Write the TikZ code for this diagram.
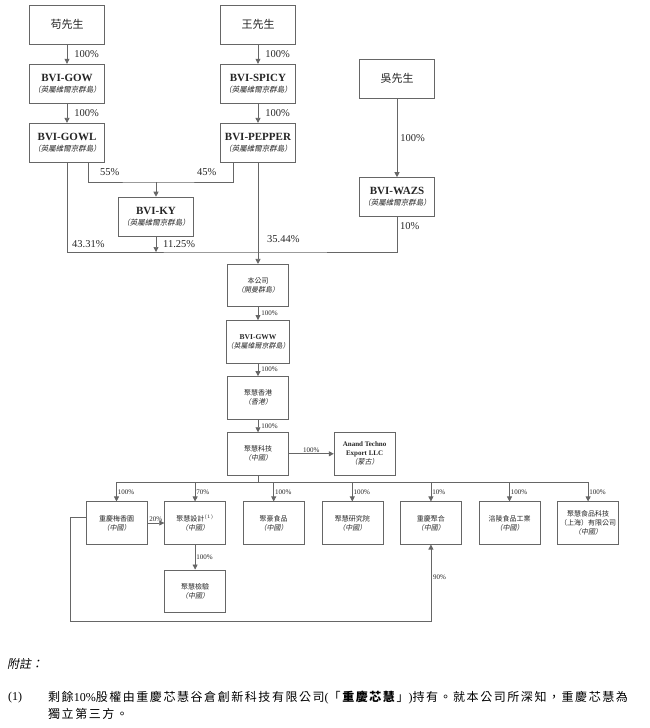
\documentclass[tikz,border=0pt]{standalone}
\usepackage{fontspec}
\setmainfont{Liberation Serif}
\newfontfamily\cjk{Noto Sans CJK TC}
\newfontfamily\cjkit{Noto Sans CJK TC}[FakeSlant=0.2]
\newfontfamily\cjknote{Noto Sans CJK TC}[LetterSpace=13]
\usetikzlibrary{arrows.meta, positioning}

\newcommand{\bvisub}{{\fontsize{7.5}{9}\cjkit （英屬維爾京群島）}}
\newcommand{\cnsub}{{\cjkit （中國）}}

\begin{document}
\begin{tikzpicture}[
    x=1pt, y=-1pt,
    node distance=19.5pt,
    box/.style={draw=black!60, line width=0.6pt, inner sep=0pt, align=center, text=black!85},
    topbox/.style={box, minimum width=75pt, minimum height=39pt, font=\fontsize{11}{11}\selectfont},
    subbox/.style={box, minimum width=61pt, minimum height=42.5pt, font=\fontsize{7}{9}\selectfont},
    link/.style={draw=black!60, line width=0.7pt},
    arrow/.style={link, -{Triangle[width=5pt,length=5pt]}},
    pct/.style={font=\fontsize{10.5}{12}\selectfont, text=black!85, inner sep=1pt},
    spct/.style={font=\fontsize{7}{8}\selectfont, text=black!85, inner sep=1pt}
  ]
    \useasboundingbox (0,0) rectangle (650,728);

    % shareholders
    \node[topbox] (gou) at (67,24.5) {\cjk 苟先生};
    \node[topbox, below=of gou] (gow) {\textbf{BVI-GOW}\\\bvisub};
    \node[topbox, below=of gow] (gowl) {\textbf{BVI-GOWL}\\\bvisub};
    \node[topbox] (wang) at (258,24.5) {\cjk 王先生};
    \node[topbox, below=of wang] (spicy) {\textbf{BVI-SPICY}\\\bvisub};
    \node[topbox, below=of spicy] (pepper) {\textbf{BVI-PEPPER}\\\bvisub};
    \node[topbox] (wu) at (397,78.5) {\cjk 吳先生};
    \node[topbox] (wazs) at (397,197) {\textbf{BVI-WAZS}\\\bvisub};
    \node[topbox] (ky) at (156,216.5) {\textbf{BVI-KY}\\\bvisub};

    \draw[arrow] (gou) -- (gow) node[pct, midway, right, xshift=6pt] {100\%};
    \draw[arrow] (gow) -- (gowl) node[pct, midway, right, xshift=6pt] {100\%};
    \draw[arrow] (wang) -- (spicy) node[pct, midway, right, xshift=6pt] {100\%};
    \draw[arrow] (spicy) -- (pepper) node[pct, midway, right, xshift=6pt] {100\%};
    \draw[arrow] (wu) -- (wazs) node[pct, midway, right, xshift=2pt] {100\%};

    % joint holding in BVI-KY
    \coordinate (kyjoin) at (156,182);
    \draw[link] ([xshift=21pt]gowl.south) |- (kyjoin) -| ([xshift=-25pt]pepper.south);
    \draw[arrow] (kyjoin) -- (ky);
    \node[pct, anchor=west] (p55) at (99,172) {55\%};
    \node[pct, anchor=west] (p45) at (196,172) {45\%};

    % holdings in the company
    \coordinate (bus) at (258,252);
    \draw[link] (gowl) |- (bus) -| (wazs);
    \draw[arrow] (ky) -- (ky |- bus);
    \node[pct, anchor=west] (p4331) at (71,244) {43.31\%};
    \node[pct, anchor=west] (p1125) at (162,244) {11.25\%};
    \node[pct, anchor=west] (p3544) at (266,239) {35.44\%};
    \node[pct, anchor=west] (p10) at (399,226) {10\%};

    % group chain
    \node[subbox] (company) at (258,285.5) {\cjk 本公司\\{\cjkit （開曼群島）}};
    \node[subbox, below=13pt of company] (gww) {{\fontsize{7.5}{9}\selectfont\textbf{BVI-GWW}}\\{\cjkit （英屬維爾京群島）}};
    \node[subbox, below=13pt of gww] (hk) {\cjk 聚慧香港\\{\cjkit （香港）}};
    \node[subbox, below=13pt of hk] (tech) {\cjk 聚慧科技\\\cnsub};
    \node[subbox, right=45pt of tech] (anand) {\textbf{Anand Techno}\\\textbf{Export LLC}\\{\cjkit （蒙古）}};

    \draw[arrow] (pepper) -- (company);
    \draw[arrow] (company) -- (gww) node[spct, midway, right, xshift=2pt] {100\%};
    \draw[arrow] (gww) -- (hk) node[spct, midway, right, xshift=2pt] {100\%};
    \draw[arrow] (hk) -- (tech) node[spct, midway, right, xshift=2pt] {100\%};
    \draw[arrow] (tech) -- (anand) node[spct, midway, above] {100\%};

    % subsidiaries
    \node[subbox] (mei) at (116.5,523) {\cjk 重慶梅香園\\\cnsub};
    \node[subbox, right=17pt of mei] (sheji) {\cjk 聚慧設計$^{\scriptscriptstyle(1)}$\\\cnsub};
    \node[subbox, right=17pt of sheji] (haofood) {\cjk 聚豪食品\\\cnsub};
    \node[subbox, right=17pt of haofood] (yanjiu) {\cjk 聚慧研究院\\\cnsub};
    \node[subbox, right=17pt of yanjiu] (juhe) {\cjk 重慶聚合\\\cnsub};
    \node[subbox, right=17pt of juhe] (fuling) {\cjk 涪陵食品工業\\\cnsub};
    \node[subbox, right=17pt of fuling] (shanghai) {\cjk 聚慧食品科技\\\cjk （上海）有限公司\\\cnsub};
    \node[subbox, below=25pt of sheji] (jianyan) {\cjk 聚慧檢驗\\\cnsub};

    \coordinate (branch) at (258,482);
    \draw[link] (tech) -- (branch);
    \draw[link] (mei |- branch) -- (shanghai |- branch);
    \foreach \n/\p in {mei/100\%, sheji/70\%, haofood/100\%, yanjiu/100\%, juhe/10\%, fuling/100\%, shanghai/100\%}
      \draw[arrow] (\n |- branch) -- (\n) node[spct, pos=0.5, right] {\p};

    \draw[arrow] (mei) -- (sheji) node[spct, midway, above] {20\%};
    \draw[arrow] (sheji) -- (jianyan) node[spct, midway, right] {100\%};

    \coordinate (loopcorner) at (70,621);
    \draw[arrow] ([yshift=6pt]mei.west) -| (loopcorner) -| (juhe);
    \node[spct, anchor=west] (p90) at (432,577) {90\%};

    % note
    \node[anchor=west, inner sep=0pt, font=\fontsize{12}{14}\cjkit] (note) at (7,664) {附註：};
    \node[anchor=west, inner sep=0pt, font=\fontsize{12}{14}\selectfont] (n1) at (8,698) {(1)};
    \node[anchor=west, inner sep=0pt, font=\fontsize{12}{14}\cjknote] (line1) at (48,698) {剩餘{\rmfamily 10\%}股權由重慶芯慧谷倉創新科技有限公司{\rmfamily(}「\textbf{重慶芯慧}」{\rmfamily)}持有。就本公司所深知，重慶芯慧為};
    \node[anchor=west, inner sep=0pt, font=\fontsize{12}{14}\cjknote] (line2) at (48,714) {獨立第三方。};
\end{tikzpicture}
\end{document}
